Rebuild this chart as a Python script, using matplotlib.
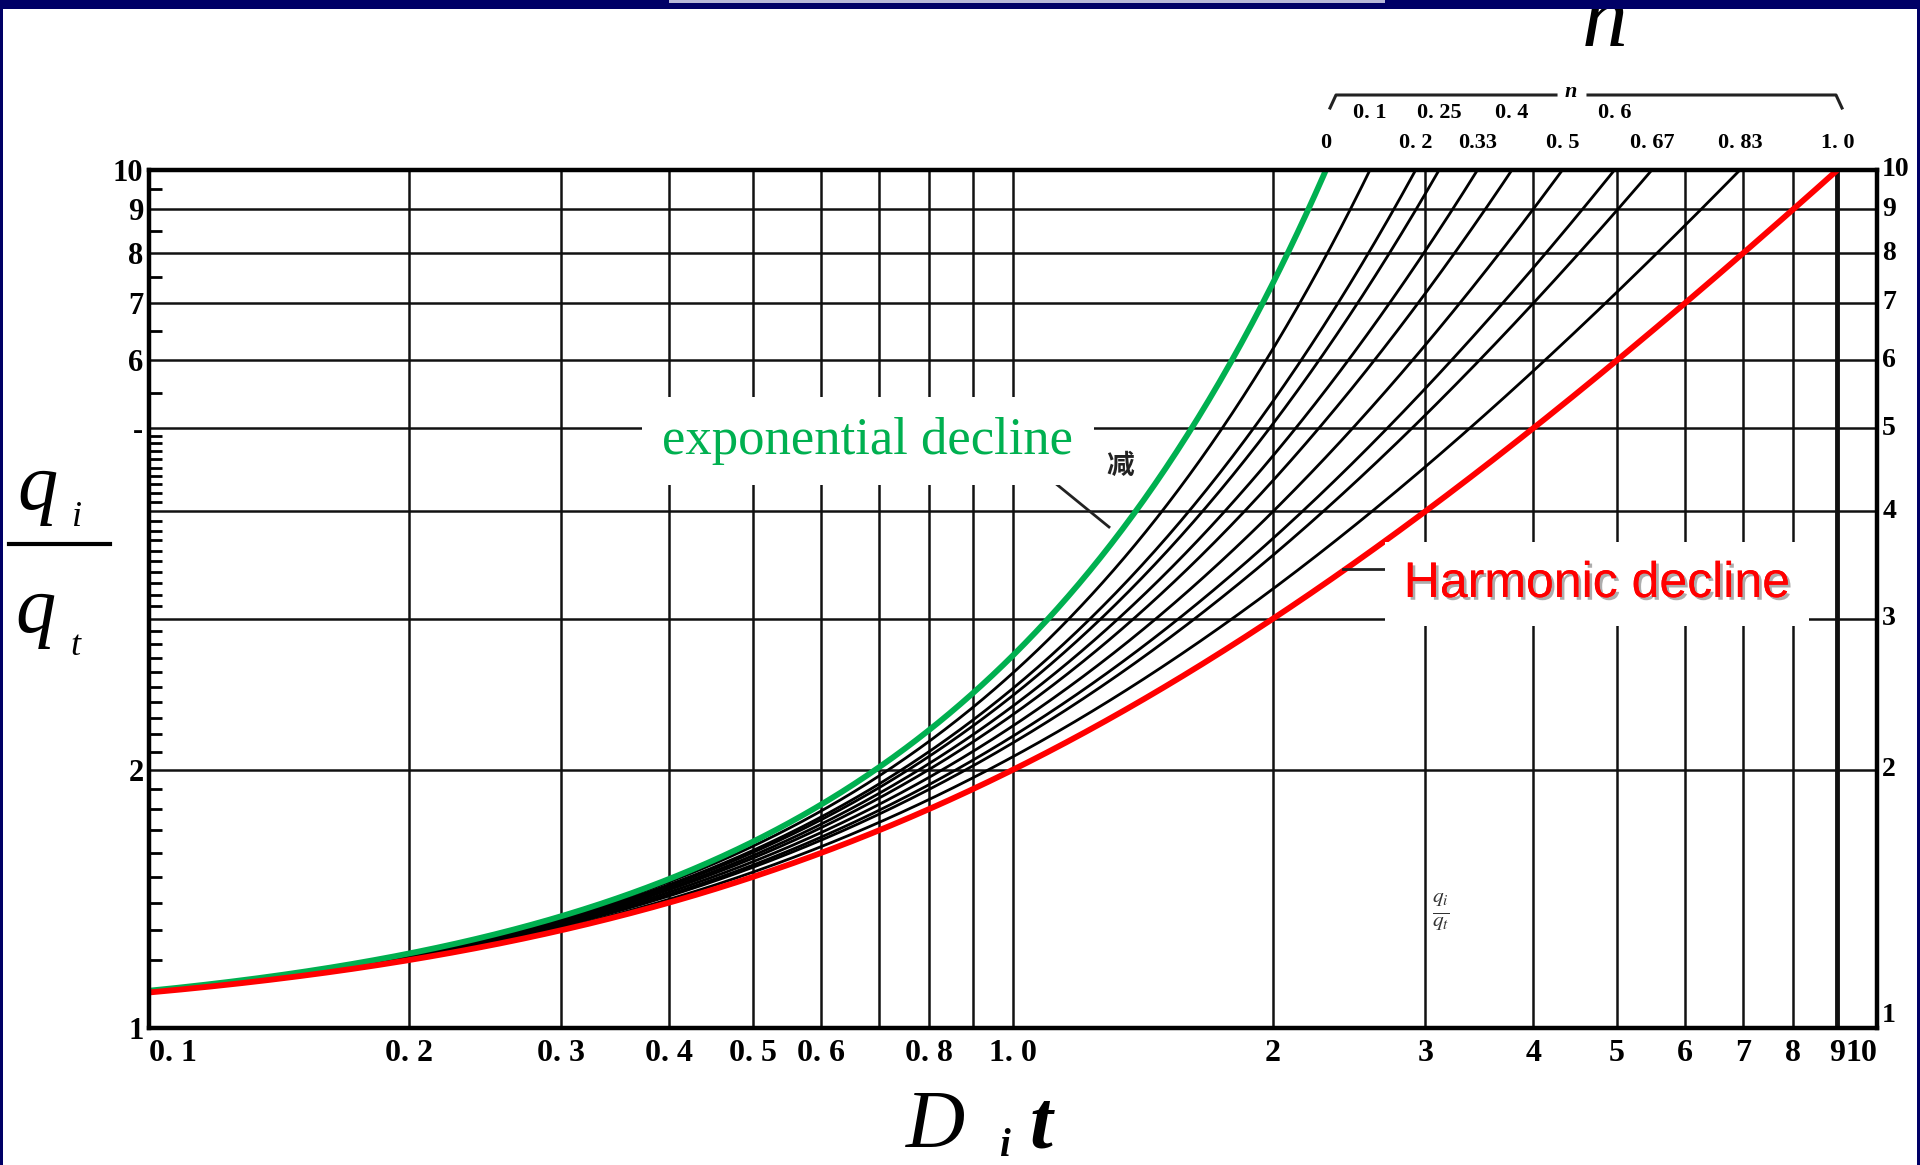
import numpy as np
import matplotlib.pyplot as plt
from matplotlib.lines import Line2D
from matplotlib.patches import Rectangle
from matplotlib.ticker import NullLocator, NullFormatter
from matplotlib.transforms import blended_transform_factory
from matplotlib import patheffects

W, H = 1920, 1165
NAVY = "#000066"
GREEN = "#00b050"
RED = "#ff0000"
SERIF = "Liberation Serif"

# decline exponents of the hyperbolic type curves
n_black = [0.1, 0.2, 0.25, 0.33, 0.4, 0.5, 0.6, 0.67, 0.83]
n_exponential = 0.0
n_harmonic = 1.0
n_labels_upper = [0.1, 0.25, 0.4, 0.6]
n_labels_lower = [0.0, 0.2, 0.33, 0.5, 0.67, 0.83, 1.0]
n_label_text = {0.0: "0", 0.1: "0. 1", 0.2: "0. 2", 0.25: "0. 25", 0.33: "0.33",
                0.4: "0. 4", 0.5: "0. 5", 0.6: "0. 6", 0.67: "0. 67",
                0.83: "0. 83", 1.0: "1. 0"}

x_ticks = [0.1, 0.2, 0.3, 0.4, 0.5, 0.6, 0.7, 0.8, 0.9, 1, 2, 3, 4, 5, 6, 7, 8, 9, 10]
x_tick_labels = ["0. 1", "0. 2", "0. 3", "0. 4", "0. 5", "0. 6", "", "0. 8", "", "1. 0",
                 "2", "3", "4", "5", "6", "7", "8", "9", "10"]
y_ticks = [1, 2, 3, 4, 5, 6, 7, 8, 9, 10]
y_left_labels = ["1", "2", "", "", "-", "6", "7", "8", "9", "10"]
y_right_labels = ["1", "2", "3", "4", "5", "6", "7", "8", "9", "10"]
y_minor = ([1 + 0.1 * k for k in range(1, 10)] + [2 + 0.1 * k for k in range(1, 10)]
           + [3 + 0.1 * k for k in range(1, 10)] + [4 + 0.1 * k for k in range(1, 10)]
           + [5.5, 6.5, 7.5, 8.5, 9.5])


def arps_ratio(dit, n):
    if n == 0:
        return np.exp(dit)
    return (1.0 + n * dit) ** (1.0 / n)


def dit_at(ratio, n):
    if n == 0:
        return np.log(ratio)
    return (ratio ** n - 1.0) / n


def fx(px):
    return px / W


def fy(py):
    return 1.0 - py / H


fig = plt.figure(figsize=(W / 100, H / 100), dpi=100, facecolor="white")
ax = fig.add_axes([fx(149), fy(1028), (1877 - 149) / W, (1028 - 170) / H])
ax.set_xscale("log")
ax.set_yscale("log")
ax.set_xlim(0.1, 10)
ax.set_ylim(1, 10)

ax.set_xticks(x_ticks)
ax.set_xticklabels(x_tick_labels, fontfamily=SERIF, fontweight="bold", fontsize=23)
ax.xaxis.set_minor_locator(NullLocator())
xl = ax.get_xticklabels()
xl[0].set_ha("left")
xl[-1].set_ha("right")
ax.set_yticks(y_ticks)
ax.set_yticklabels(y_left_labels, fontfamily=SERIF, fontweight="bold", fontsize=22)
ax.set_yticks(y_minor, minor=True)
ax.yaxis.set_minor_formatter(NullFormatter())
ax.tick_params(axis="x", which="major", length=0, pad=8)
ax.tick_params(axis="y", which="major", length=0, pad=4)
ax.tick_params(axis="y", which="minor", direction="in", length=9, width=2, color="black")

ax.grid(True, which="major", color="#111111", lw=1.8)
ax.axvline(9, color="#111111", lw=3.5)
for s in ax.spines.values():
    s.set_linewidth(3.2)
    s.set_color("black")

tr_right = blended_transform_factory(ax.transAxes, ax.transData)
for v, lab in zip(y_ticks, y_right_labels):
    ax.text(1.003, v, lab, transform=tr_right, ha="left",
            va="bottom" if v == 1 else "center",
            fontfamily=SERIF, fontweight="bold", fontsize=20)

# type curves
dit = np.geomspace(0.1, 10, 800)
for n in n_black:
    ax.plot(dit, arps_ratio(dit, n), color="black", lw=2.0)
ax.plot(dit, arps_ratio(dit, n_exponential), color=GREEN, lw=4.2)
ax.plot(dit, arps_ratio(dit, n_harmonic), color=RED, lw=4.2)

# n labels above the curve ends
tr_top = blended_transform_factory(ax.transData, ax.transAxes)
for n in n_labels_upper:
    ax.text(dit_at(10, n), 1.066, n_label_text[n], transform=tr_top, ha="center",
            va="center", fontfamily=SERIF, fontweight="bold", fontsize=16, clip_on=False)
for n in n_labels_lower:
    ax.text(dit_at(10, n), 1.031, n_label_text[n], transform=tr_top, ha="center",
            va="center", fontfamily=SERIF, fontweight="bold", fontsize=16, clip_on=False)

# brace over the n labels
brace = dict(color="#222222", lw=2.2, transform=fig.transFigure)
fig.add_artist(Line2D([fx(1330), fx(1336), fx(1556)], [fy(108), fy(95), fy(95)], **brace))
fig.add_artist(Line2D([fx(1588), fx(1836), fx(1842)], [fy(95), fy(95), fy(108)], **brace))
fig.text(fx(1571), fy(92), "n", fontfamily=SERIF, style="italic", fontweight="bold",
         fontsize=16, ha="center", va="center")

# curve labels
fig.text(fx(868), fy(441), "exponential decline", color=GREEN, fontfamily=SERIF,
         fontsize=38, ha="center", va="center",
         bbox=dict(boxstyle="square,pad=0.38", facecolor="white", edgecolor="none"))
fig.text(fx(1597), fy(584), "Harmonic decline", color=RED, fontfamily="Liberation Sans",
         fontsize=36, ha="center", va="center",
         path_effects=[patheffects.withSimplePatchShadow(offset=(2, -2), shadow_rgbFace="#777777", alpha=0.6),
                       patheffects.Normal()],
         bbox=dict(boxstyle="square,pad=0.38", facecolor="white", edgecolor="none"))
fig.text(fx(1120), fy(466), "减", fontfamily=["Noto Sans CJK SC", "DejaVu Sans"],
         fontweight="bold", fontsize=20, ha="center", va="center", color="#222222")
fig.add_artist(Line2D([fx(1055), fx(1109)], [fy(483), fy(527)], color="#222222", lw=2))
fig.add_artist(Line2D([fx(1343), fx(1384)], [fy(569), fy(569)], color="#222222", lw=2))
fig.text(fx(1441), fy(912), r"$\frac{q_i}{q_t}$", fontsize=22, ha="center", va="center",
         color="#333333", math_fontfamily="stix")

# axis titles
fig.text(fx(37), fy(509), "q", fontfamily=SERIF, style="italic", fontsize=58,
         ha="center", va="baseline")
fig.text(fx(77), fy(526), "i", fontfamily=SERIF, style="italic", fontsize=26,
         ha="center", va="baseline")
fig.add_artist(Line2D([fx(9), fx(110)], [fy(544), fy(544)], color="black", lw=3))
fig.text(fx(35), fy(632), "q", fontfamily=SERIF, style="italic", fontsize=58,
         ha="center", va="baseline")
fig.text(fx(75), fy(655), "t", fontfamily=SERIF, style="italic", fontsize=26,
         ha="center", va="baseline")
fig.text(fx(936), fy(1147), "D", fontfamily=SERIF, style="italic", fontsize=59,
         ha="center", va="baseline")
fig.text(fx(1004), fy(1156), "i", fontfamily=SERIF, style="italic", fontweight="bold",
         fontsize=28, ha="center", va="baseline")
fig.text(fx(1041), fy(1147), "t", fontfamily=SERIF, style="italic", fontweight="bold",
         fontsize=59, ha="center", va="baseline")
fig.text(fx(1605), fy(46), "n", fontfamily=SERIF, style="italic", fontsize=66,
         ha="center", va="baseline", zorder=3)

# slide frame
frame = dict(transform=fig.transFigure, facecolor=NAVY, edgecolor="none", zorder=10)
fig.add_artist(Rectangle((0, fy(9)), 1, 9 / H, **frame))
fig.add_artist(Rectangle((0, 0), 3 / W, 1, **frame))
fig.add_artist(Rectangle((1 - 3 / W, 0), 3 / W, 1, **frame))
fig.add_artist(Rectangle((fx(669), fy(3)), (1385 - 669) / W, 3 / H, transform=fig.transFigure,
                         facecolor="#b8b8d8", edgecolor="none", zorder=11))

fig.savefig("out.png", dpi=100, facecolor="white")
